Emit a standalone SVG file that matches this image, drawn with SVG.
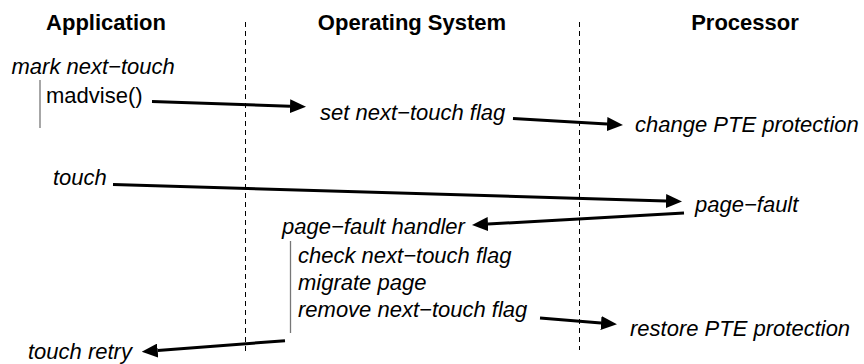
<svg xmlns="http://www.w3.org/2000/svg" width="864" height="364" viewBox="0 0 864 364">
  <defs>
    <marker id="ah" viewBox="0 0 16 14" refX="0" refY="7" markerWidth="16" markerHeight="14" markerUnits="userSpaceOnUse" orient="auto">
      <path d="M0,0 L16,7 L0,14 z" fill="#000"/>
    </marker>
    <style>
      .hdr { font-family: "Liberation Sans", Arial, sans-serif; font-size: 22px; font-weight: bold; fill: #000; text-anchor: middle; }
      .it { font-family: "Liberation Sans", Arial, sans-serif; font-size: 22px; font-style: italic; fill: #000; }
      .rm { font-family: "Liberation Sans", Arial, sans-serif; font-size: 22px; fill: #000; }
      .lane { stroke: #000; stroke-width: 1; stroke-dasharray: 5 4; fill: none; }
      .bar { stroke: #777; stroke-width: 1.3; fill: none; }
      .arr { stroke: #000; stroke-width: 3; fill: none; marker-end: url(#ah); }
    </style>
  </defs>
  <rect width="864" height="364" fill="#fff"/>

  <g id="lanes">
    <line class="lane" x1="245.5" y1="22" x2="245.5" y2="352"/>
    <line class="lane" x1="579.5" y1="22" x2="579.5" y2="350"/>
  </g>

  <g id="headers">
    <text class="hdr" x="106" y="30">Application</text>
    <text class="hdr" x="412" y="30">Operating System</text>
    <text class="hdr" x="745" y="30">Processor</text>
  </g>

  <g id="app-mark">
    <text class="it" x="11.5" y="74">mark next−touch</text>
    <line class="bar" x1="40" y1="80" x2="40" y2="128"/>
    <text class="rm" x="46" y="103">madvise()</text>
  </g>

  <g id="os-set">
    <text class="it" x="320" y="119.5">set next−touch flag</text>
  </g>

  <g id="proc-change">
    <text class="it" x="635" y="132">change PTE protection</text>
  </g>

  <g id="app-touch">
    <text class="it" x="53" y="185">touch</text>
  </g>

  <g id="proc-fault">
    <text class="it" x="695" y="212">page−fault</text>
  </g>

  <g id="os-handler">
    <text class="it" x="282" y="234">page−fault handler</text>
    <line class="bar" x1="290.5" y1="241" x2="290.5" y2="333"/>
    <text class="it" x="298" y="263">check next−touch flag</text>
    <text class="it" x="298" y="290">migrate page</text>
    <text class="it" x="298" y="317">remove next−touch flag</text>
  </g>

  <g id="proc-restore">
    <text class="it" x="630" y="336">restore PTE protection</text>
  </g>

  <g id="app-retry">
    <text class="it" x="28" y="358.5">touch retry</text>
  </g>

  <g id="connectors">
    <path class="arr" d="M152,101.5 L290,106.2"/>
    <path class="arr" d="M513,118.5 L607,124.1"/>
    <path class="arr" d="M113,184.5 L666,201"/>
    <path class="arr" d="M684,213 L488,224.1"/>
    <path class="arr" d="M540,318 L601,323"/>
    <path class="arr" d="M285,340.7 L157.7,350.5"/>
  </g>
</svg>
